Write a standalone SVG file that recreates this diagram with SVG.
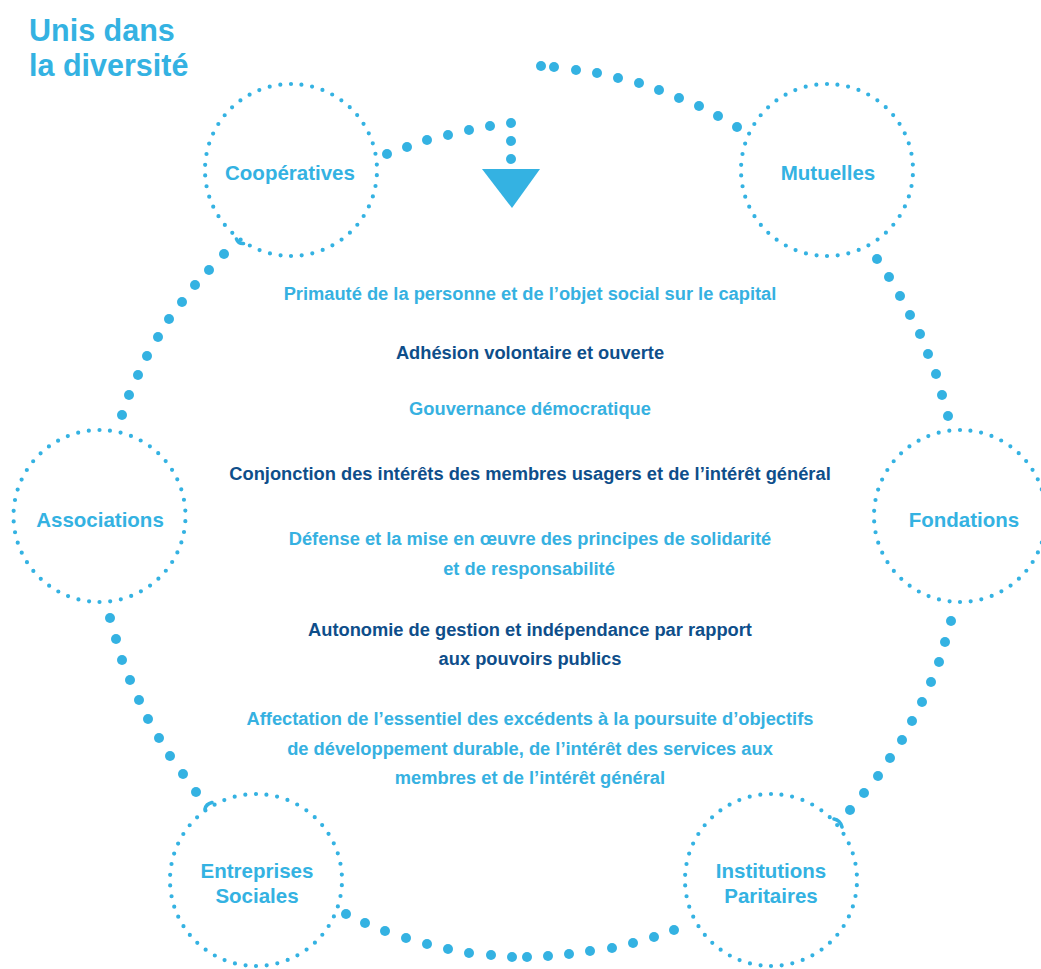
<svg xmlns="http://www.w3.org/2000/svg" width="1041" height="969" viewBox="0 0 1041 969">
<style>
.ring{fill:none;stroke:#34b2e2;stroke-width:4.2;stroke-linecap:round;stroke-dasharray:0 10.8}
.hook{fill:none;stroke:#34b2e2;stroke-width:3.6;stroke-linecap:round}
.b{fill:#34b2e2}
.lbl{font-family:"Liberation Sans",Arial,sans-serif;font-weight:bold;font-size:20.5px;fill:#34b2e2;text-anchor:middle}
.t{font-family:"Liberation Sans",Arial,sans-serif;font-weight:bold;font-size:18.3px;text-anchor:middle}
.lt{fill:#36b1e1}
.dk{fill:#0e4e8a}
.title{font-family:"Liberation Sans",Arial,sans-serif;font-weight:bold;font-size:30.5px;fill:#34b2e2}
</style>
<rect width="1041" height="969" fill="#ffffff"/>
<g id="title">
<text class="title" x="29" y="41">Unis dans</text>
<text class="title" x="29" y="76">la diversité</text>
</g>
<g id="connectors">
<g id="c-coop-arrow">
<circle class="b" cx="387" cy="154" r="5"/><circle class="b" cx="407" cy="147" r="5"/><circle class="b" cx="427" cy="140" r="5"/><circle class="b" cx="448" cy="135" r="5"/><circle class="b" cx="469" cy="130" r="5"/><circle class="b" cx="490" cy="126" r="5"/><circle class="b" cx="511" cy="123" r="5"/><circle class="b" cx="511" cy="141" r="5"/><circle class="b" cx="511" cy="159" r="5"/>
<polygon class="b" points="482,169 540,169 512,208"/>
</g>
<g id="c-top">
<circle class="b" cx="541" cy="66" r="5"/><circle class="b" cx="554" cy="67" r="5"/><circle class="b" cx="576" cy="70" r="5"/><circle class="b" cx="597" cy="73" r="5"/><circle class="b" cx="618" cy="78" r="5"/><circle class="b" cx="639" cy="83" r="5"/><circle class="b" cx="659" cy="90" r="5"/><circle class="b" cx="679" cy="98" r="5"/><circle class="b" cx="699" cy="106" r="5"/><circle class="b" cx="718" cy="116" r="5"/><circle class="b" cx="737" cy="127" r="5"/>
</g>
<g id="c-mut-fond">
<circle class="b" cx="877" cy="259" r="5"/><circle class="b" cx="889" cy="277" r="5"/><circle class="b" cx="900" cy="296" r="5"/><circle class="b" cx="910" cy="315" r="5"/><circle class="b" cx="920" cy="334" r="5"/><circle class="b" cx="928" cy="354" r="5"/><circle class="b" cx="936" cy="374" r="5"/><circle class="b" cx="942" cy="395" r="5"/><circle class="b" cx="948" cy="416" r="5"/>
</g>
<g id="c-fond-inst">
<circle class="b" cx="951" cy="621" r="5"/><circle class="b" cx="945" cy="642" r="5"/><circle class="b" cx="939" cy="662" r="5"/><circle class="b" cx="931" cy="682" r="5"/><circle class="b" cx="922" cy="702" r="5"/><circle class="b" cx="912" cy="721" r="5"/><circle class="b" cx="902" cy="740" r="5"/><circle class="b" cx="890" cy="758" r="5"/><circle class="b" cx="878" cy="776" r="5"/><circle class="b" cx="864" cy="793" r="5"/><circle class="b" cx="850" cy="810" r="5"/>
<path class="hook" d="M834,819 q6,1 8,8"/>
</g>
<g id="c-bottom">
<circle class="b" cx="346" cy="914" r="5"/><circle class="b" cx="365" cy="923" r="5"/><circle class="b" cx="385" cy="931" r="5"/><circle class="b" cx="406" cy="938" r="5"/><circle class="b" cx="427" cy="944" r="5"/><circle class="b" cx="448" cy="949" r="5"/><circle class="b" cx="469" cy="953" r="5"/><circle class="b" cx="491" cy="955" r="5"/><circle class="b" cx="512" cy="957" r="5"/><circle class="b" cx="527" cy="957" r="5"/><circle class="b" cx="548" cy="956" r="5"/><circle class="b" cx="569" cy="954" r="5"/><circle class="b" cx="590" cy="951" r="5"/><circle class="b" cx="612" cy="948" r="5"/><circle class="b" cx="633" cy="943" r="5"/><circle class="b" cx="654" cy="937" r="5"/><circle class="b" cx="674" cy="930" r="5"/>
</g>
<g id="c-coop-assoc">
<path class="hook" d="M236.5,239 q2,5 7,4.5"/>
<circle class="b" cx="224" cy="254" r="5"/><circle class="b" cx="209" cy="270" r="5"/><circle class="b" cx="195" cy="285" r="5"/><circle class="b" cx="182" cy="302" r="5"/><circle class="b" cx="169" cy="319" r="5"/><circle class="b" cx="158" cy="337" r="5"/><circle class="b" cx="147" cy="356" r="5"/><circle class="b" cx="138" cy="375" r="5"/><circle class="b" cx="129" cy="395" r="5"/><circle class="b" cx="122" cy="415" r="5"/>
</g>
<g id="c-assoc-ent">
<circle class="b" cx="110" cy="618" r="5"/><circle class="b" cx="116" cy="639" r="5"/><circle class="b" cx="122" cy="660" r="5"/><circle class="b" cx="130" cy="680" r="5"/><circle class="b" cx="139" cy="700" r="5"/><circle class="b" cx="148" cy="719" r="5"/><circle class="b" cx="159" cy="738" r="5"/><circle class="b" cx="170" cy="756" r="5"/><circle class="b" cx="183" cy="774" r="5"/><circle class="b" cx="196" cy="792" r="5"/>
<path class="hook" d="M205,809 q1,-5 7,-6.5"/>
</g>
</g>
<g id="cooperatives">
<path class="ring" d="M291,84 A86,86 0 0 0 291,256"/><path class="ring" d="M291,256 A86,86 0 0 0 291,84"/>
<text class="lbl" x="290" y="180">Coopératives</text>
</g>
<g id="mutuelles">
<path class="ring" d="M827,84 A86,86 0 0 0 827,256"/><path class="ring" d="M827,256 A86,86 0 0 0 827,84"/>
<text class="lbl" x="828" y="180">Mutuelles</text>
</g>
<g id="associations">
<path class="ring" d="M99.5,430 A86,86 0 0 0 99.5,602"/><path class="ring" d="M99.5,602 A86,86 0 0 0 99.5,430"/>
<text class="lbl" x="100" y="527">Associations</text>
</g>
<g id="fondations">
<path class="ring" d="M960,430 A86,86 0 0 0 960,602"/><path class="ring" d="M960,602 A86,86 0 0 0 960,430"/>
<text class="lbl" x="964" y="527">Fondations</text>
</g>
<g id="entreprises-sociales">
<path class="ring" d="M256,794 A86,86 0 0 0 256,966"/><path class="ring" d="M256,966 A86,86 0 0 0 256,794"/>
<text class="lbl" x="257" y="878">Entreprises</text>
<text class="lbl" x="257" y="903">Sociales</text>
</g>
<g id="institutions-paritaires">
<path class="ring" d="M771,794 A86,86 0 0 0 771,966"/><path class="ring" d="M771,966 A86,86 0 0 0 771,794"/>
<text class="lbl" x="771" y="878">Institutions</text>
<text class="lbl" x="771" y="903">Paritaires</text>
</g>
<g id="principes">
<text class="t lt" x="530" y="300">Primauté de la personne et de l’objet social sur le capital</text>
<text class="t dk" x="530" y="359">Adhésion volontaire et ouverte</text>
<text class="t lt" x="530" y="415">Gouvernance démocratique</text>
<text class="t dk" x="530" y="480">Conjonction des intérêts des membres usagers et de l’intérêt général</text>
<text class="t lt" x="530" y="545">Défense et la mise en œuvre des principes de solidarité</text>
<text class="t lt" x="529" y="575">et de responsabilité</text>
<text class="t dk" x="530" y="636">Autonomie de gestion et indépendance par rapport</text>
<text class="t dk" x="530" y="665">aux pouvoirs publics</text>
<text class="t lt" x="530" y="725">Affectation de l’essentiel des excédents à la poursuite d’objectifs</text>
<text class="t lt" x="530" y="755">de développement durable, de l’intérêt des services aux</text>
<text class="t lt" x="530" y="784">membres et de l’intérêt général</text>
</g>
</svg>
